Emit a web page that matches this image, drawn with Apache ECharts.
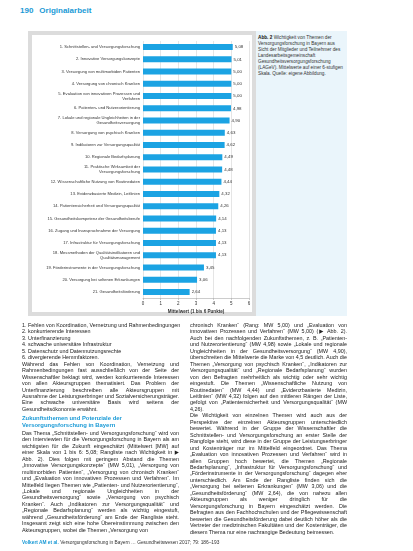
<!DOCTYPE html>
<html lang="de">
<head>
<meta charset="utf-8">
<script src="https://cdn.jsdelivr.net/npm/echarts@6/dist/echarts.min.js"></script>
<style>
  html, body { margin: 0; padding: 0; background: #fff; }
  #page { position: relative; width: 413px; height: 551px; overflow: hidden; font-family: "Liberation Sans", "DejaVu Sans", sans-serif; color: #222; }
  #head { position: absolute; left: 20px; top: 6px; font-size: 8px; line-height: 10px; }
  #head .nr { color: #1a9ad6; font-weight: bold; margin-right: 6px; }
  #head .ti { color: #1a9ad6; font-weight: bold; }
  #frame { position: absolute; left: 28px; top: 31px; width: 220px; height: 277px; border: 4px solid #dcdcdc; background: #fff; }
  #side { position: absolute; left: 256px; top: 31px; width: 91px; height: 285px; background: #eaf5fb; }
  #caption { position: absolute; left: 258px; top: 35px; width: 86px; font-size: 4.7px; line-height: 6px; color: #333; }
  #caption b { color: #111; }
  #chart { position: absolute; left: 0; top: 0; width: 413px; height: 551px; }
  .col { position: absolute; top: 322px; font-size: 5.4px; line-height: 6.45px; text-align: justify; hyphens: auto; color: #222; }
  #colL { left: 22px; width: 157px; }
  #colR { left: 190px; width: 157px; }
  .col p { margin: 0; }
  .col p.li { text-align: left; white-space: nowrap; }
  .col h4 { margin: 3px 0 1px 0; font-size: 5.9px; line-height: 6.8px; color: #1a9ad6; text-align: left; }
  #foot { position: absolute; left: 22px; top: 540px; font-size: 4.8px; color: #333; }
  #foot b { color: #1a9ad6; }
</style>
</head>
<body>
<div id="page">
  <div id="head"><span class="nr">190</span><span class="ti">Originalarbeit</span></div>
  <div id="side"></div>
  <div id="frame"></div>
  <div id="caption"><b>Abb. 2</b> Wichtigkeit von Themen der Versorgungsforschung in Bayern aus Sicht der Mitglieder und Teilnehmer des Landesarbeitsgemeinschaft Gesundheitsversorgungsforschung (LAGeV). Mittelwerte auf einer 6-stufigen Skala. Quelle: eigene Abbildung.</div>
  <div id="chart"></div>

  <div id="colL" class="col">
    <p class="li">1. Fehlen von Koordination, Vernetzung und Rahmenbedingungen</p>
    <p class="li">2. konkurrierende Interessen</p>
    <p class="li">3. Unterfinanzierung</p>
    <p class="li">4. schwache universitäre Infrastruktur</p>
    <p class="li">5. Datenschutz und Datennutzungsrechte</p>
    <p class="li">6. divergierende Hemmfaktoren.</p>
    <p>Während das Fehlen von Koordination, Vernetzung und Rahmenbedingungen fast ausschließlich von der Seite der Wissenschaftler beklagt wird, werden konkurrierende Interessen von allen Akteursgruppen thematisiert. Das Problem der Unterfinanzierung beschreiben alle Akteursgruppen mit Ausnahme der Leistungserbringer und Sozialversicherungsträger. Eine schwache universitäre Basis wird seitens der Gesundheitsökonomie erwähnt.</p>
    <h4>Zukunftsthemen und Potenziale der<br>Versorgungsforschung in Bayern</h4>
    <p>Das Thema „Schnittstellen- und Versorgungsforschung“ wird von den Interviewten für die Versorgungsforschung in Bayern als am wichtigsten für die Zukunft eingeschätzt (Mittelwert [MW] auf einer Skala von 1 bis 6: 5,08; Rangliste nach Wichtigkeit in ▶ Abb. 2). Dies folgen mit geringem Abstand die Themen „Innovative Versorgungskonzepte“ (MW 5,01), „Versorgung von multimorbiden Patienten“, „Versorgung von chronisch Kranken“ und „Evaluation von innovativen Prozessen und Verfahren“. Im Mittelfeld liegen Themen wie „Patienten- und Nutzerorientierung“, „Lokale und regionale Ungleichheiten in der Gesundheitsversorgung“ sowie „Versorgung von psychisch Kranken“. Auch „Indikatoren zur Versorgungsqualität“ und „Regionale Bedarfsplanung“ werden als wichtig eingestuft, während „Gesundheitsförderung“ am Ende der Rangliste steht. Insgesamt zeigt sich eine hohe Übereinstimmung zwischen den Akteursgruppen, wobei die Themen „Versorgung von</p>
  </div>

  <div id="colR" class="col">
    <p>chronisch Kranken“ (Rang: MW 5,00) und „Evaluation von innovativen Prozessen und Verfahren“ (MW 5,00) (▶ Abb. 2). Auch bei den nachfolgenden Zukunftsthemen, z. B. „Patienten- und Nutzerorientierung“ (MW 4,98) sowie „Lokale und regionale Ungleichheiten in der Gesundheitsversorgung“ (MW 4,90), überschreiten die Mittelwerte die Marke von 4,5 deutlich. Auch die Themen „Versorgung von psychisch Kranken“, „Indikatoren zur Versorgungsqualität“ und „Regionale Bedarfsplanung“ wurden von den Befragten mehrheitlich als wichtig oder sehr wichtig eingestuft. Die Themen „Wissenschaftliche Nutzung von Routinedaten“ (MW 4,44) und „Evidenzbasierte Medizin, Leitlinien“ (MW 4,32) folgen auf den mittleren Rängen der Liste, gefolgt von „Patientensicherheit und Versorgungsqualität“ (MW 4,26).</p>
    <p>Die Wichtigkeit von einzelnen Themen wird auch aus der Perspektive der einzelnen Akteursgruppen unterschiedlich bewertet. Während in der Gruppe der Wissenschaftler die Schnittstellen- und Versorgungsforschung an erster Stelle der Rangfolge steht, wird diese in der Gruppe der Leistungserbringer und Kostenträger nur im Mittelfeld eingeordnet. Das Thema „Evaluation von innovativen Prozessen und Verfahren“ wird in allen Gruppen hoch bewertet, die Themen „Regionale Bedarfsplanung“, „Infrastruktur für Versorgungsforschung“ und „Förderinstrumente in der Versorgungsforschung“ dagegen eher unterschiedlich. Am Ende der Rangliste finden sich die „Versorgung bei seltenen Erkrankungen“ (MW 3,06) und die „Gesundheitsförderung“ (MW 2,64), die von nahezu allen Akteursgruppen als weniger dringlich für die Versorgungsforschung in Bayern eingeschätzt werden. Die Befragten aus den Fachhochschulen und der Pflegewissenschaft bewerten die Gesundheitsförderung dabei deutlich höher als die Vertreter der medizinischen Fakultäten und der Kostenträger, die diesem Thema nur eine nachrangige Bedeutung beimessen.</p>
  </div>

  <div id="foot"><b>Volkert AM et al.</b> Versorgungsforschung in Bayern … Gesundheitswesen 2017; 79: 186–193</div>
</div>

<script>
// Themen (Rangfolge von oben nach unten)
const categories = [
  '1. Schnittstellen- und Versorgungsforschung',
  '2. Innovative Versorgungskonzepte',
  '3. Versorgung von multimorbiden Patienten',
  '4. Versorgung von chronisch Kranken',
  '5. Evaluation von innovativen Prozessen und\nVerfahren',
  '6. Patienten- und Nutzerorientierung',
  '7. Lokale und regionale Ungleichheiten in der\nGesundheitsversorgung',
  '8. Versorgung von psychisch Kranken',
  '9. Indikatoren zur Versorgungsqualität',
  '10. Regionale Bedarfsplanung',
  '11. Praktische Wirksamkeit der\nVersorgungsforschung',
  '12. Wissenschaftliche Nutzung von Routinedaten',
  '13. Evidenzbasierte Medizin, Leitlinien',
  '14. Patientensicherheit und Versorgungsqualität',
  '15. Gesundheitskompetenz der Gesundheitsberufe',
  '16. Zugang und Inanspruchnahme der Versorgung',
  '17. Infrastruktur für Versorgungsforschung',
  '18. Messmethoden der Qualitätsindikatoren und\nQualitätsmanagement',
  '19. Förderinstrumente in der Versorgungsforschung',
  '20. Versorgung bei seltenen Erkrankungen',
  '21. Gesundheitsförderung'
];
// Mittelwerte
const values = [5.08, 5.01, 5.00, 5.00, 5.00, 4.98, 4.90, 4.63, 4.62, 4.49, 4.48, 4.44,
                4.32, 4.26, 4.14, 4.13, 4.13, 4.13, 3.45, 3.06, 2.64];
const xTicks = [0, 1, 2, 3, 4, 5, 6];

const myChart = echarts.init(document.getElementById('chart'), null, {renderer: 'canvas'});

const option = {
  animation: false,
  grid: { left: 143, right: 164, top: 41, height: 257 },
  xAxis: {
    type: 'value',
    min: xTicks[0],
    max: xTicks[xTicks.length - 1],
    interval: 1,
    name: 'Mittelwert (1 bis 6 Punkte)',
    nameLocation: 'middle',
    nameGap: 11,
    nameTextStyle: { fontSize: 4.6, fontWeight: 'bold', color: '#333', fontFamily: 'Liberation Sans' },
    axisLine: { show: true, lineStyle: { color: '#aaa', width: 0.6 } },
    axisTick: { show: true, length: 2, lineStyle: { color: '#aaa', width: 0.6 } },
    axisLabel: { fontSize: 4.5, color: '#333', margin: 3, fontFamily: 'Liberation Sans' },
    splitLine: { show: true, lineStyle: { color: '#d4d4d4', width: 0.6 } }
  },
  yAxis: {
    type: 'category',
    inverse: true,
    data: categories,
    axisLine: { show: false },
    axisTick: { show: false },
    axisLabel: {
      fontSize: 4.1, lineHeight: 5, color: '#333', margin: 3,
      fontFamily: 'Liberation Sans', align: 'right'
    }
  },
  series: [{
    type: 'bar',
    data: values,
    barWidth: 6,
    itemStyle: { color: '#1ba3e3' },
    label: {
      show: true,
      position: 'right',
      distance: 2,
      fontSize: 4.4,
      color: '#333',
      fontFamily: 'Liberation Sans',
      formatter: (p) => p.value.toFixed(2).replace('.', ',')
    }
  }]
};

option && myChart.setOption(option);
</script>
</body>
</html>
